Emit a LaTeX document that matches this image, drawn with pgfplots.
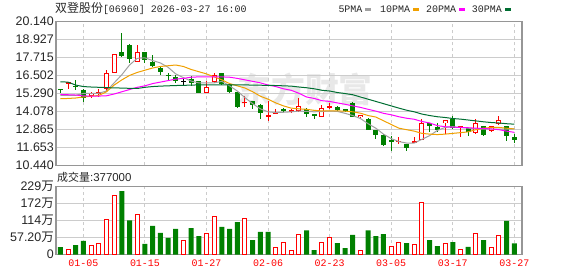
\documentclass[border=0pt]{standalone}
\usepackage{fontspec}
\setmainfont{Liberation Sans}
\newfontfamily\cjk{Noto Sans CJK SC}
\newfontfamily\mono{Liberation Mono}
\usepackage{pgfplots}
\pgfplotsset{compat=1.18}
\usepackage{pgfplotstable}

\definecolor{kgreen}{RGB}{0,128,0}
\definecolor{kred}{RGB}{255,0,0}
\definecolor{ma5}{RGB}{160,160,160}
\definecolor{ma10}{RGB}{240,160,0}
\definecolor{ma20}{RGB}{255,0,255}
\definecolor{ma30}{RGB}{0,110,50}
\definecolor{bordergray}{RGB}{150,150,150}
\definecolor{gridgray}{RGB}{204,204,204}

% candles: index, open, high, low, close
\pgfplotstableread{
i o h l c
0 15.61 15.61 15.33 15.50
2 15.80 16.16 15.49 15.77
3 15.49 15.56 14.71 15.00
8 18.09 19.38 17.76 17.78
9 18.56 18.58 17.34 17.60
11 18.07 18.09 17.34 17.56
12 17.43 17.89 17.09 17.11
13 17.00 17.16 16.56 16.71
14 16.53 16.67 16.16 16.51
15 16.40 16.56 16.00 16.11
17 16.29 16.45 15.78 16.00
18 16.11 16.13 15.29 15.33
21 16.63 16.65 15.87 15.89
22 15.89 15.91 15.29 15.38
23 15.38 15.40 14.33 14.40
25 14.78 14.80 14.27 14.49
26 14.49 14.56 13.55 13.96
29 14.20 14.33 14.00 14.15
32 14.27 14.29 13.71 13.93
33 13.89 13.91 13.60 13.78
36 14.40 14.45 14.13 14.16
37 14.20 14.27 14.04 14.16
38 14.67 14.69 13.69 13.71
40 13.60 13.62 12.80 12.82
41 12.82 12.84 12.22 12.51
42 12.51 12.55 11.78 11.82
43 12.10 12.45 11.40 12.08
45 11.89 11.91 11.44 11.60
48 13.27 13.29 12.67 13.11
49 13.02 13.29 12.71 12.82
51 13.56 13.78 12.89 12.93
53 12.93 12.95 12.44 12.67
55 13.07 13.09 12.40 12.51
58 13.07 13.09 12.11 12.40
59 12.38 12.55 11.96 12.18
}\candgreen

\pgfplotstableread{
i o h l c
1 15.98 16.02 15.56 16.00
4 15.11 15.40 14.98 15.33
5 15.31 15.56 15.07 15.34
6 15.56 16.89 15.45 16.63
7 16.67 17.96 16.65 17.94
10 17.43 18.56 17.38 18.07
19 15.33 16.11 15.31 15.74
20 16.07 16.67 16.00 16.51
24 14.70 15.11 14.40 14.72
27 13.77 14.78 13.44 13.78
28 13.93 14.27 13.91 14.04
30 14.10 14.27 14.00 14.11
31 14.11 14.96 14.04 14.44
34 13.73 14.49 13.71 14.33
35 14.39 14.67 14.22 14.40
39 13.67 13.87 13.62 13.82
44 12.08 12.33 11.89 12.09
46 11.98 12.33 11.96 12.09
47 12.18 13.56 12.16 13.27
50 13.31 13.49 12.55 13.47
52 13.03 13.11 12.33 13.04
54 12.60 13.56 12.58 13.27
56 12.78 13.09 12.67 13.07
57 13.20 13.78 13.18 13.49
}\candred

\pgfplotstableread{
i o h l c
16 16.11 16.40 15.85 16.11
}\candflat

\pgfplotstableread{
i ma5 ma10 ma20 ma30
0 15.16 14.93 15.22 16.07
1 15.16 14.95 15.20 16.05
2 15.16 14.98 15.18 15.85
3 15.29 15.05 15.12 15.75
4 15.29 15.10 15.11 15.72
5 15.30 15.15 15.11 15.70
6 15.45 15.40 15.13 15.68
7 16.00 15.85 15.25 15.66
8 16.55 16.20 15.40 15.65
9 17.20 16.50 15.55 15.63
10 17.65 16.70 15.70 15.62
11 17.68 16.85 15.80 15.70
12 17.50 17.00 15.95 15.75
13 17.34 17.10 16.05 15.78
14 17.05 17.15 16.15 15.80
15 16.60 17.20 16.25 15.82
16 16.35 17.10 16.30 15.83
17 16.12 16.90 16.38 15.85
18 16.00 16.75 16.40 15.86
19 16.00 16.60 16.40 15.87
20 16.00 16.40 16.40 15.87
21 16.10 16.20 16.40 15.87
22 15.80 15.95 16.38 15.87
23 15.45 15.80 16.30 15.86
24 15.00 15.65 16.20 15.86
25 14.60 15.40 16.10 15.85
26 14.25 15.10 16.00 15.84
27 14.05 14.90 15.85 15.83
28 14.00 14.65 15.75 15.82
29 14.02 14.45 15.60 15.80
30 14.05 14.30 15.50 15.78
31 14.10 14.25 15.30 15.72
32 14.08 14.22 15.05 15.67
33 14.05 14.15 14.95 15.60
34 14.08 14.11 14.80 15.50
35 14.10 14.11 14.75 15.45
36 14.08 14.11 14.65 15.35
37 13.95 14.10 14.56 15.28
38 13.80 14.05 14.45 15.20
39 13.60 13.96 14.35 15.05
40 13.25 13.80 14.22 14.90
41 12.95 13.70 14.10 14.75
42 12.55 13.45 13.95 14.60
43 12.25 13.20 13.85 14.45
44 12.05 12.95 13.72 14.30
45 11.95 12.85 13.62 14.16
46 11.95 12.75 13.55 14.05
47 12.20 12.60 13.40 13.90
48 12.45 12.55 13.30 13.80
49 12.80 12.52 13.12 13.72
50 13.00 12.55 13.05 13.67
51 13.05 12.60 13.02 13.60
52 13.00 12.65 13.00 13.56
53 12.95 12.70 12.98 13.50
54 12.90 12.85 12.95 13.44
55 12.88 12.95 12.93 13.38
56 12.88 13.00 12.90 13.33
57 12.88 13.00 12.85 13.30
58 12.88 12.95 12.75 13.25
59 12.90 12.90 12.67 13.22
}\mas

% volume in 10k shares
\pgfplotstableread{
i v
0 25.7
2 32
3 46
8 213
9 115
11 36
12 96
13 73
14 56
15 86
17 89
18 62.5
21 93
22 86
23 109
25 49
26 76
27 76
32 81.5
33 15.6
36 39
37 22
38 66
40 81.5
41 62.5
42 69
45 39
48 49
49 29
51 42
53 26
55 49
58 113
59 37.7
}\volgreen

\pgfplotstableread{
i v
1 17.9
4 31
5 38
6 118
7 199
10 135
16 48
19 71
20 128
24 122
28 24.5
29 41
30 14.5
31 68
34 41
35 58
39 14.5
43 28
44 41
46 35
47 175
50 38
52 18
54 71
56 24.5
57 65
}\volred

\pgfplotsset{
  kbase/.style={
    scale only axis, width=466bp, anchor=south west,
    xmin=-0.56, xmax=60,
    axis line style={bordergray, line width=1.5bp},
    xtick={3,11,19,27,35,43,51,59},
    major tick length=0pt,
    xmajorgrids, ymajorgrids,
    x grid style={gridgray, dash pattern=on 3bp off 3bp, line width=1bp},
    y grid style={gridgray, line width=1bp},
    yticklabel style={font=\fontsize{12.5}{14}\selectfont, text=black!85, inner sep=2bp},
  },
  wick/.style={only marks, mark=none, mark size=0pt, mark options={draw=none, fill=none},
    error bars/.cd, y dir=both, y explicit, error mark=none,
    error bar style={solid, line width=1bp, draw=#1}},
  body/.style 2 args={only marks, mark=none, mark size=0pt, mark options={draw=none, fill=none},
    error bars/.cd, y dir=both, y explicit, error mark=none,
    error bar style={solid, line width=#2, draw=#1}},
}

\begin{document}
\begin{tikzpicture}
\path[use as bounding box] (0,0) rectangle (578bp,276bp);

% watermark
\node[text=black!9, font=\cjk\bfseries\fontsize{34}{36}\selectfont, inner sep=0] at (305bp,187bp) {东方财富};

% title
\node[anchor=west, inner sep=0, text=black!85] at (55bp,267.5bp)
  {{\cjk\fontsize{12}{14}\selectfont 双登股份}{\mono\fontsize{10}{12}\selectfont [06960] 2026-03-27 16:00}};

% legend
\node[anchor=west, inner sep=0, text=black!85, font=\mono\fontsize{10}{12}\selectfont] at (338.3bp,267.2bp) {5PMA};
\fill[ma5] (365bp,265.3bp) rectangle (370.5bp,268.2bp);
\node[anchor=west, inner sep=0, text=black!85, font=\mono\fontsize{10}{12}\selectfont] at (380bp,267.2bp) {10PMA};
\fill[ma10] (413.3bp,265.3bp) rectangle (418.5bp,268.2bp);
\node[anchor=west, inner sep=0, text=black!85, font=\mono\fontsize{10}{12}\selectfont] at (426bp,267.2bp) {20PMA};
\fill[ma20] (459.3bp,265.3bp) rectangle (464.5bp,268.2bp);
\node[anchor=west, inner sep=0, text=black!85, font=\mono\fontsize{10}{12}\selectfont] at (471.7bp,267.2bp) {30PMA};
\fill[ma30] (505bp,265.3bp) rectangle (510.7bp,268.2bp);

% price panel
\begin{axis}[kbase, at={(56bp,110.5bp)}, height=144.2bp,
  ymin=10.44, ymax=20.14,
  ytick={10.44,11.6525,12.865,14.0775,15.29,16.5025,17.715,18.9275,20.14},
  yticklabels={10.440,11.653,12.865,14.078,15.290,16.502,17.715,18.927,20.140},
  xticklabels={}]
  % wicks
  \addplot[wick=kgreen] table[x=i, y expr={(\thisrow{h}+\thisrow{l})/2}, y error expr={(\thisrow{h}-\thisrow{l})/2}] {\candgreen};
  \addplot[wick=kred] table[x=i, y expr={(\thisrow{h}+\thisrow{l})/2}, y error expr={(\thisrow{h}-\thisrow{l})/2}] {\candred};
  \addplot[wick=black] table[x=i, y expr={(\thisrow{h}+\thisrow{l})/2}, y error expr={(\thisrow{h}-\thisrow{l})/2}] {\candflat};
  % bodies
  \addplot[body={kgreen}{5bp}] table[x=i, y expr={(\thisrow{o}+\thisrow{c})/2}, y error expr={max(abs(\thisrow{o}-\thisrow{c})/2,0.035)}] {\candgreen};
  \addplot[body={kred}{5bp}] table[x=i, y expr={(\thisrow{o}+\thisrow{c})/2}, y error expr={max(abs(\thisrow{o}-\thisrow{c})/2,0.035)}] {\candred};
  \addplot[body={white}{3bp}] table[x=i, y expr={(\thisrow{o}+\thisrow{c})/2}, y error expr={max(abs(\thisrow{o}-\thisrow{c})/2-0.068,0)}] {\candred};
  \addplot[body={black}{5bp}] table[x=i, y expr={(\thisrow{o}+\thisrow{c})/2}, y error expr={max(abs(\thisrow{o}-\thisrow{c})/2,0.035)}] {\candflat};
  % moving averages
  \addplot[ma5, line width=1bp, mark=none] table[x=i, y=ma5] {\mas};
  \addplot[ma10, line width=1bp, mark=none] table[x=i, y=ma10] {\mas};
  \addplot[ma20, line width=1bp, mark=none] table[x=i, y=ma20] {\mas};
  \addplot[ma30, line width=1bp, mark=none] table[x=i, y=ma30] {\mas};
\end{axis}

% volume label
\node[anchor=west, inner sep=0, text=black!85] at (57bp,98.7bp)
  {{\cjk\fontsize{11}{13}\selectfont 成交量}{\fontsize{11.5}{13}\selectfont :377000}};

% volume panel
\begin{axis}[kbase, at={(56bp,21.3bp)}, height=68.4bp,
  ymin=0, ymax=228.8,
  ytick={0,57.2,114.4,171.6,228.8},
  yticklabels={0,57.20{\cjk 万},114{\cjk 万},172{\cjk 万},229{\cjk 万}},
  xticklabels={01-05,01-15,01-27,02-06,02-23,03-05,03-17,03-27},
  xticklabel style={font=\mono\fontsize{10}{12}\selectfont, text=kred, inner sep=2bp, yshift=-3bp}]
  \addplot[ybar, bar width=5bp, bar shift=0pt, fill=kgreen, draw=none] table[x=i, y=v] {\volgreen};
  \addplot[ybar, bar width=4bp, bar shift=0pt, fill=white, draw=kred, line width=1bp] table[x=i, y=v] {\volred};
\end{axis}
\end{tikzpicture}
\end{document}
